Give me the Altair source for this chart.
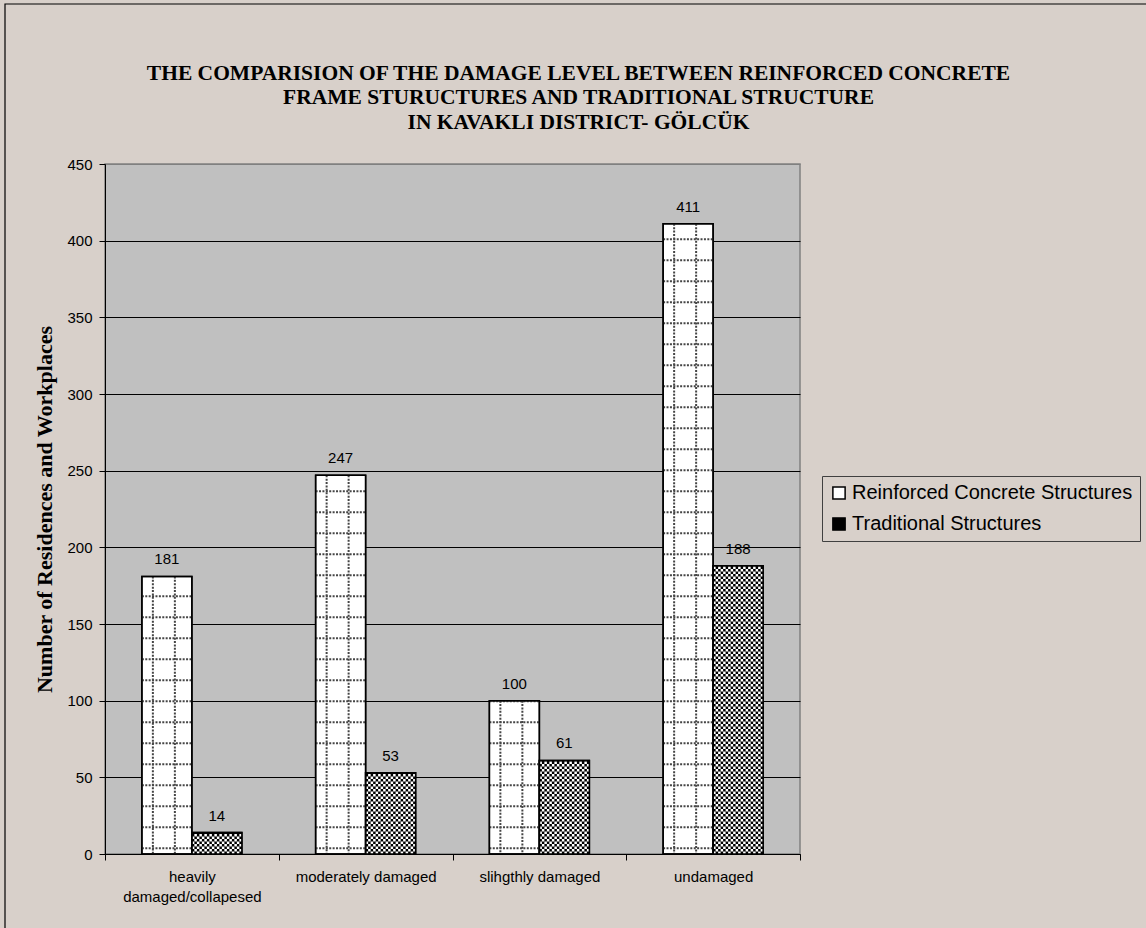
import altair as alt
import pandas as pd

# ---- data -------------------------------------------------------------
categories = [
    "heavily damaged/collapesed",
    "moderately damaged",
    "slihgthly damaged",
    "undamaged",
]
series_names = ["Reinforced Concrete Structures", "Traditional Structures"]
rc_values = [181, 247, 100, 411]
trad_values = [14, 53, 61, 188]

rows = []
for i, cat in enumerate(categories):
    rows.append({"category": cat, "series": series_names[0], "value": rc_values[i], "ci": i, "si": 0})
    rows.append({"category": cat, "series": series_names[1], "value": trad_values[i], "ci": i, "si": 1})
df = pd.DataFrame(rows)

# ---- layout / style constants -----------------------------------------
W, H = 695, 690
Y_MAX = 450
BAR_PAD = 0.7375                       # outer padding of the series band scale
BAR_FRAC = 1 / (2 + 2 * BAR_PAD)       # one bar's width as a fraction of a category band
PX_PER_UNIT = H / Y_MAX
GRID_STEP = 21 / PX_PER_UNIT           # spacing of the dotted grid texture (data units)
GRID_START = 3.7
GRID_COLS = [11 / 173.75, 33 / 173.75] # vertical dotted lines inside a bar (band fractions)
CELL_PX = 2.5
CELL = CELL_PX / PX_PER_UNIT           # checker cell height (data units)

SANS = "Liberation Sans"
SERIF = "Liberation Serif"
BG = "#d8d0ca"
PLOT_BG = "#c0c0c0"

y_scale = alt.Scale(domain=[0, Y_MAX], nice=False, zero=True)
y_axis = alt.Axis(
    values=list(range(0, Y_MAX + 1, 50)),
    title="Number of Residences and Workplaces",
    titleFont=SERIF, titleFontSize=22, titleFontWeight="bold", titleColor="black",
    titlePadding=10,
    labelFont=SANS, labelFontSize=15, labelColor="black", labelPadding=7,
    tickSize=6, tickColor="black", domainColor="black", domainWidth=1,
    grid=True, gridWidth=1,
    gridColor={"condition": {"test": "datum.value >= 450", "value": "#808080"}, "value": "black"},
)
q_scale = alt.Scale(domain=[0, len(categories)], nice=False, zero=False)

base = alt.Chart(df)

# outer frame of the chart area (top and left edges fall on the canvas)
frame = alt.Chart(pd.DataFrame({"k": [0]})).mark_rect(
    filled=False, color="black", strokeWidth=1.2, clip=False
).encode(
    x=alt.value(-100), x2=alt.value(1080), y=alt.value(-160), y2=alt.value(800)
)

x_band = alt.X(
    "category:N", sort=categories,
    scale=alt.Scale(paddingInner=0, paddingOuter=0),
    axis=alt.Axis(
        title=None, tickBand="extent", labelAngle=0, labelPadding=9,
        labelFont=SANS, labelFontSize=15, labelColor="black", labelLineHeight=20,
        labelExpr="length(datum.label) > 20 ? split(datum.label, ' ') : datum.label",
        tickSize=6, tickColor="black", domainColor="black", grid=False,
    ),
)
x_off = alt.XOffset(
    "series:N", sort=series_names,
    scale=alt.Scale(paddingInner=0, paddingOuter=BAR_PAD),
)

bars = base.mark_bar(stroke="black", strokeWidth=1.5).encode(
    x=x_band,
    xOffset=x_off,
    y=alt.Y("value:Q", scale=y_scale, axis=y_axis),
    fill=alt.Fill(
        "series:N", sort=series_names,
        scale=alt.Scale(domain=series_names, range=["white", "black"]),
        legend=alt.Legend(
            title=None, orient="none", legendX=717, legendY=312, direction="vertical",
            symbolType="square", symbolSize=150, symbolStrokeColor="black",
            symbolStrokeWidth=1.5, labelFont=SANS, labelFontSize=20, labelColor="black",
            labelLimit=500, labelOffset=3, rowPadding=11, padding=7,
            strokeColor="#404040",
        ),
    ),
)

# dotted grid texture of the reinforced-concrete bars
rc = base.transform_filter("datum.si == 0").transform_calculate(
    x0=f"datum.ci + 0.5 - {BAR_FRAC}",
    x1="datum.ci + 0.5",
)
rc_rows = rc.transform_calculate(
    gy=f"sequence({GRID_START}, datum.value, {GRID_STEP})"
).transform_flatten(["gy"]).mark_rule(
    color="#454545", strokeWidth=2, strokeDash=[2, 1.4]
).encode(
    x=alt.X("x0:Q", scale=q_scale, axis=None),
    x2="x1:Q",
    y=alt.Y("gy:Q", scale=y_scale, axis=y_axis),
)
rc_cols = rc.transform_calculate(
    gx=f"[datum.x0 + {GRID_COLS[0]}, datum.x0 + {GRID_COLS[1]}]"
).transform_flatten(["gx"]).mark_rule(
    color="#454545", strokeWidth=2, strokeDash=[2, 1.4]
).encode(
    x=alt.X("gx:Q", scale=q_scale, axis=None),
    y=alt.Y("value:Q", scale=y_scale, axis=y_axis),
    y2=alt.datum(0),
)

# checkerboard texture of the traditional-structure bars (white cells on black)
trad = base.transform_filter("datum.si == 1").transform_calculate(
    x0="datum.ci + 0.5",
    x1=f"datum.ci + 0.5 + {BAR_FRAC}",
    k=f"sequence(0, floor(datum.value / {CELL}))",
).transform_flatten(["k"]).transform_calculate(
    cy=f"(datum.k + 0.5) * {CELL}",
    parity="datum.k % 2",
)


def checker_rows(parity, offset):
    return trad.transform_filter(f"datum.parity == {parity}").mark_rule(
        color="white", strokeWidth=CELL_PX, strokeDash=[CELL_PX, CELL_PX],
        strokeDashOffset=offset,
    ).encode(
        x=alt.X("x0:Q", scale=q_scale, axis=None),
        x2="x1:Q",
        y=alt.Y("cy:Q", scale=y_scale, axis=y_axis),
    )


checker_a = checker_rows(0, 0)
checker_b = checker_rows(1, CELL_PX)

outline = base.mark_bar(fillOpacity=0, stroke="black", strokeWidth=1.5).encode(
    x=alt.X("category:N", sort=categories,
            scale=alt.Scale(paddingInner=0, paddingOuter=0), axis=None),
    xOffset=x_off,
    y=alt.Y("value:Q", scale=y_scale, axis=y_axis),
)

labels = base.transform_calculate(
    xc=f"datum.ci + 0.5 + (datum.si - 0.5) * {BAR_FRAC}"
).mark_text(font=SANS, fontSize=15, color="black", dy=-17, baseline="middle").encode(
    x=alt.X("xc:Q", scale=q_scale, axis=None),
    y=alt.Y("value:Q", scale=y_scale, axis=y_axis),
    text="value:Q",
)

# the frame rect widens the layout bounds up to the canvas top, so the
# title offset is negative to bring it back down inside the frame
chart = alt.layer(
    frame, bars, rc_rows, rc_cols, checker_a, checker_b, outline, labels
).resolve_scale(
    x="independent"
).properties(
    width=W,
    height=H,
    padding={"left": 105, "top": 164, "right": 346, "bottom": 74},
    autosize=alt.AutoSizeParams(type="none"),
    title=alt.TitleParams(
        text=[
            "THE COMPARISION OF THE DAMAGE LEVEL BETWEEN REINFORCED CONCRETE",
            "FRAME STURUCTURES AND TRADITIONAL STRUCTURE",
            "IN KAVAKLI DISTRICT- GÖLCÜK",
        ],
        font=SERIF, fontSize=21.5, fontWeight="bold", color="black",
        lineHeight=24.5, anchor="middle", frame="group", dx=126, offset=-130,
    ),
).configure(
    background=BG
).configure_view(
    fill=PLOT_BG, stroke="#808080", strokeWidth=1.5
)

chart.save("out.html", embed_options={"renderer": "svg", "actions": False})
